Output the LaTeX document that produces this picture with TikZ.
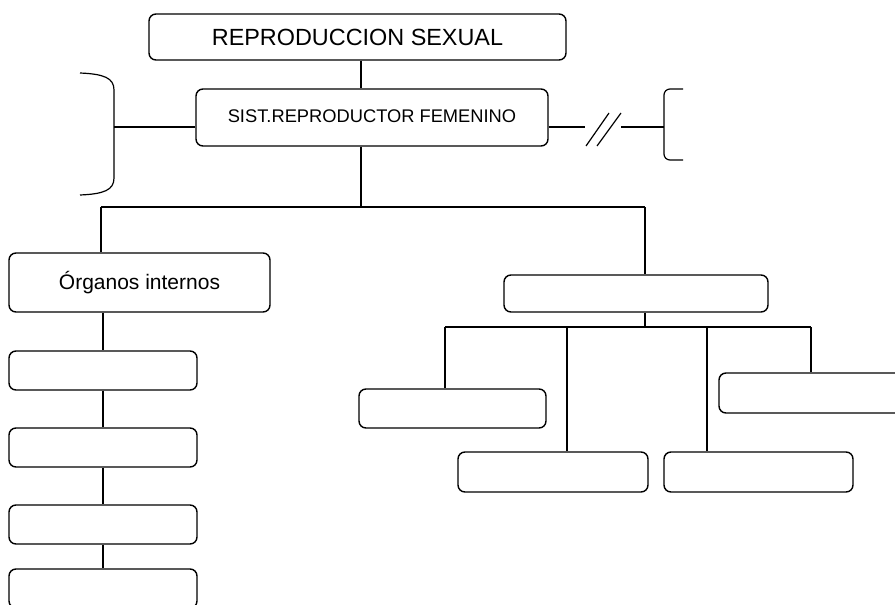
\documentclass[tikz,border=0pt]{standalone}
\usepackage{fontspec}
\setmainfont{Liberation Sans}
\begin{document}
\begin{tikzpicture}[x=1pt,y=-1pt,
  box/.style={draw,line width=1.4pt,rounded corners=7pt,inner sep=0pt,anchor=center},
  conn/.style={line width=1.2pt}]
\useasboundingbox (0,0) rectangle (895,605);
\clip (0,0) rectangle (895,605);
\node[box,minimum width=417pt,minimum height=46pt,font=\fontsize{23.4}{26}\selectfont] (top) at (357.5,37) {\raisebox{-3pt}{REPRODUCCION SEXUAL}};
\node[box,minimum width=352pt,minimum height=57pt,font=\fontsize{18.3}{21}\selectfont] (sist) at (372,117.5) {\raisebox{3pt}{SIST.REPRODUCTOR FEMENINO}};
\node[box,minimum width=261pt,minimum height=59pt,font=\fontsize{21}{24}\selectfont] (org) at (139.5,282.5) {\raisebox{2pt}{Órganos internos}};
\node[box,minimum width=188pt,minimum height=39pt] (l1) at (103,370.5) {};
\node[box,minimum width=188pt,minimum height=39pt] (l2) at (103,447.5) {};
\node[box,minimum width=188pt,minimum height=39pt] (l3) at (103,524.5) {};
\node[box,minimum width=188pt,minimum height=39pt] (l4) at (103,588.5) {};
\node[box,minimum width=264pt,minimum height=37pt] (rb) at (636,293.5) {};
\node[box,minimum width=187pt,minimum height=39pt] (a) at (452.5,408.5) {};
\node[box,minimum width=190pt,minimum height=40pt] (b) at (553,472) {};
\node[box,minimum width=189pt,minimum height=40pt] (c) at (758.5,472) {};
\node[box,minimum width=189pt,minimum height=40pt] (d) at (813.5,393) {};
% top connectors
\draw[conn] (361,0 |- top.south) -- (361,0 |- sist.north);
\coordinate (j1) at (361,207);
\draw[conn] (361,0 |- sist.south) -- (j1);
\coordinate (jl) at (101,207);
\coordinate (jr) at (645,207);
\draw[conn] (jl) -- (jr);
\draw[conn] (jl) -- (jl |- org.north);
\draw[conn] (jr) -- (jr |- rb.north);
% left column
\draw[conn] (103,0 |- org.south) -- (l1.north);
\draw[conn] (l1.south) -- (l2.north);
\draw[conn] (l2.south) -- (l3.north);
\draw[conn] (l3.south) -- (l4.north);
% right subtree
\coordinate (r1) at (645,327);
\draw[conn] (rb.south -| r1) -- (r1);
\coordinate (ra) at (445,327);
\coordinate (rd) at (811,327);
\draw[conn] (ra) -- (rd);
\draw[conn] (ra) -- (ra |- a.north);
\draw[conn] (567,327) -- (567,0 |- b.north);
\draw[conn] (707,327) -- (707,0 |- c.north);
\draw[conn] (rd) -- (rd |- d.north);
% left bracket
\coordinate (lbt) at (80,73);
\coordinate (lbb) at (80,195);
\coordinate (lbm) at (114,127);
\draw[conn] (lbt) .. controls (104,74) and (114,78) .. (114,90) -- (114,178) .. controls (114,190) and (104,194) .. (lbb);
\draw[conn] (lbm) -- (lbm -| sist.west);
% right side with break
\coordinate (s1) at (585,127);
\coordinate (s2) at (621,127);
\coordinate (rbm) at (664,127);
\draw[conn] (s1 -| sist.east) -- (s1);
\draw[conn] (586,146) -- (609,113);
\draw[conn] (597,146) -- (621,113);
\draw[conn] (s2) -- (rbm);
\coordinate (rbt) at (683,89);
\coordinate (rbb) at (683,160);
\draw[conn,rounded corners=6pt] (rbt) -- (664,89) -- (664,160) -- (rbb);
\end{tikzpicture}
\end{document}
